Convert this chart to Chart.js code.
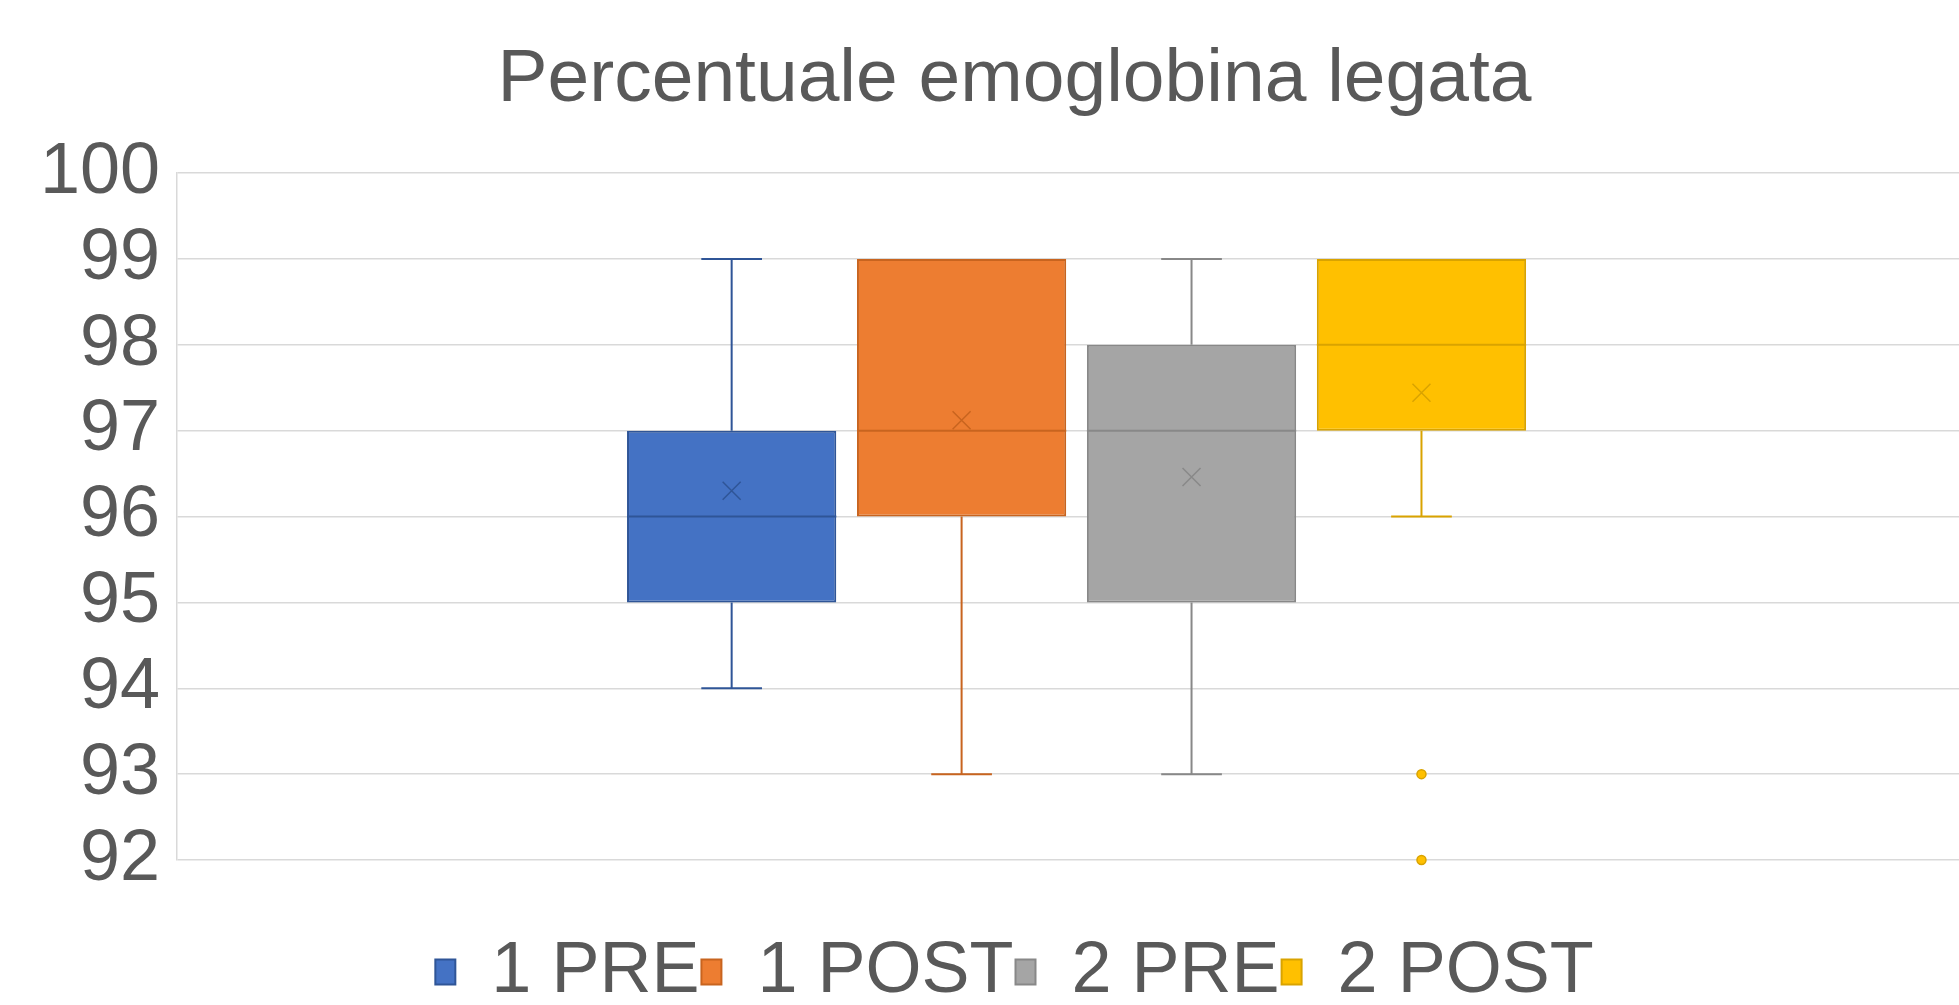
<!DOCTYPE html>
<html>
<head>
<meta charset="utf-8">
<title>Percentuale emoglobina legata</title>
<script src="https://cdn.jsdelivr.net/npm/chart.js@4/dist/chart.umd.min.js"></script>
<style>
    html, body { margin: 0; padding: 0; background: #ffffff; }
    #frame { width: 1959px; height: 1005px; overflow: hidden; }
    /* un po' più largo: l'area del grafico esce dal bordo destro come nell'originale */
    #wrap { width: 1976px; height: 1005px; position: relative; }
</style>
</head>
<body>
<div id="frame"><div id="wrap"><canvas id="box-chart"></canvas></div></div>
<script>
// dati del box plot
const groups = ['1 PRE', '1 POST', '2 PRE', '2 POST'];
const minVals = [94, 93, 93, 96];
const q1Vals = [95, 96, 95, 97];
const medianVals = [96, 97, 97, 98];
const q3Vals = [97, 99, 98, 99];
const maxVals = [99, 99, 99, 99];
const meanVals = [96.3, 97.12, 96.46, 97.44];
const outliers = [[], [], [], [93, 92]];
const yTicks = [92, 93, 94, 95, 96, 97, 98, 99, 100];

// colori stile Excel
const fillColors = ['#4472C4', '#ED7D31', '#A5A5A5', '#FFC000'];
const lineColors = ['#2F5597', '#C8641F', '#888888', '#D9A300'];

const textColor = '#595959';
const fontFamily = '"Liberation Sans", Arial, sans-serif';

// baffi, mediana, media (x) e outlier disegnati sopra le barre flottanti
const boxPlotPlugin = {
    id: 'boxPlot',
    afterDatasetsDraw(chart) {
        const ctx = chart.ctx;
        const yScale = chart.scales.y;
        chart.data.datasets.forEach((ds, i) => {
            const bar = chart.getDatasetMeta(i).data[0];
            const cx = bar.x;
            const half = bar.width / 2;
            const cap = bar.width * 0.145;
            const color = lineColors[i];

            ctx.save();
            ctx.strokeStyle = color;
            ctx.lineWidth = 2;

            // baffi
            const yMin = yScale.getPixelForValue(minVals[i]);
            const yQ1 = yScale.getPixelForValue(q1Vals[i]);
            const yQ3 = yScale.getPixelForValue(q3Vals[i]);
            const yMax = yScale.getPixelForValue(maxVals[i]);
            ctx.beginPath();
            if (maxVals[i] > q3Vals[i]) {
                ctx.moveTo(cx, yQ3); ctx.lineTo(cx, yMax);
                ctx.moveTo(cx - cap, yMax); ctx.lineTo(cx + cap, yMax);
            }
            if (minVals[i] < q1Vals[i]) {
                ctx.moveTo(cx, yQ1); ctx.lineTo(cx, yMin);
                ctx.moveTo(cx - cap, yMin); ctx.lineTo(cx + cap, yMin);
            }
            ctx.stroke();

            // mediana
            const yMed = yScale.getPixelForValue(medianVals[i]);
            ctx.beginPath();
            ctx.moveTo(cx - half, yMed);
            ctx.lineTo(cx + half, yMed);
            ctx.stroke();

            // media
            const yMean = yScale.getPixelForValue(meanVals[i]);
            const m = 9;
            ctx.lineWidth = 1.5;
            ctx.beginPath();
            ctx.moveTo(cx - m, yMean - m); ctx.lineTo(cx + m, yMean + m);
            ctx.moveTo(cx - m, yMean + m); ctx.lineTo(cx + m, yMean - m);
            ctx.stroke();

            // outlier
            ctx.fillStyle = fillColors[i];
            ctx.lineWidth = 1.5;
            outliers[i].forEach(v => {
                const py = yScale.getPixelForValue(v);
                ctx.beginPath();
                ctx.arc(cx, py, 4.5, 0, Math.PI * 2);
                ctx.fill();
                ctx.stroke();
            });
            ctx.restore();
        });
    }
};

const datasets = groups.map((g, i) => ({
    label: g,
    data: [[q1Vals[i], q3Vals[i]]],
    backgroundColor: fillColors[i],
    borderColor: lineColors[i],
    borderWidth: 2,
    borderSkipped: false,
    categoryPercentage: 0.5113,
    barPercentage: 0.91
}));

const ctx = document.getElementById('box-chart').getContext('2d');
const boxChart = new Chart(ctx, {
    type: 'bar',
    data: {
        labels: [''],
        datasets: datasets
    },
    options: {
        responsive: true,
        maintainAspectRatio: false,
        animation: false,
        layout: { padding: { left: 23, right: -30, top: 0, bottom: -13 } },
        plugins: {
            tooltip: { enabled: false },
            title: {
                display: true,
                text: 'Percentuale emoglobina legata',
                color: textColor,
                font: { family: fontFamily, size: 75, weight: 'normal' },
                padding: { top: 35, bottom: 48 }
            },
            legend: {
                position: 'bottom',
                labels: {
                    color: textColor,
                    font: { family: fontFamily, size: 72 },
                    boxWidth: 20,
                    boxHeight: 25,
                    padding: 2
                }
            }
        },
        scales: {
            x: {
                display: true,
                grid: { display: false },
                border: { display: false },
                ticks: { display: false },
                afterFit: s => { s.height = 74; }
            },
            y: {
                min: 92,
                max: 100,
                afterBuildTicks: axis => { axis.ticks = yTicks.map(v => ({ value: v })); },
                grid: { color: '#D9D9D9', lineWidth: 1.5, drawTicks: false },
                border: { color: '#D9D9D9', width: 1.5 },
                ticks: {
                    color: textColor,
                    padding: 17,
                    autoSkip: false,
                    font: { family: fontFamily, size: 72 }
                }
            }
        }
    },
    plugins: [boxPlotPlugin]
});
</script>
</body>
</html>
